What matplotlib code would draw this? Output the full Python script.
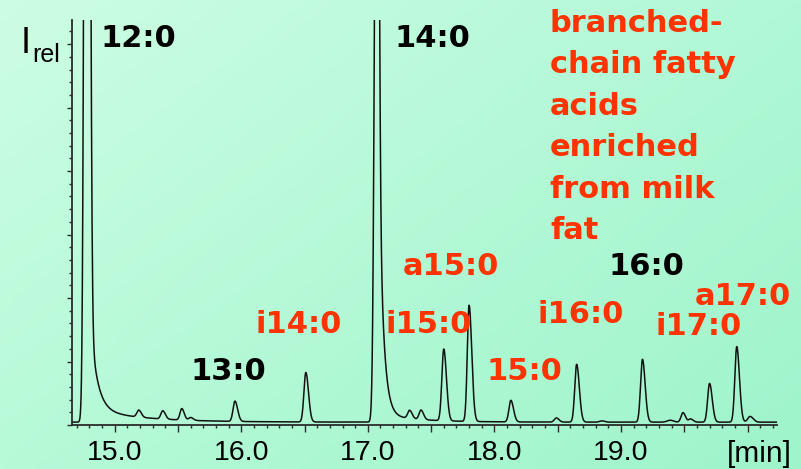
import numpy as np
import matplotlib
matplotlib.use("Agg")
import matplotlib.pyplot as plt
from matplotlib.ticker import MultipleLocator

# small peaks: retention time [min], height above baseline, widths
peak_rt = [15.19, 15.38, 15.53, 15.60, 15.95, 16.51, 17.33, 17.42, 17.60, 17.80,
           18.13, 18.49, 18.65, 18.85, 19.17, 19.39, 19.49, 19.55, 19.70, 19.915, 20.02]
peak_amp = [1.1, 1.3, 1.8, 0.45, 3.2, 7.8, 1.3, 1.5, 11.3, 18.3,
            3.4, 0.65, 9.1, 0.2, 9.9, 0.3, 1.5, 0.5, 6.1, 11.9, 0.9]
peak_sl = [0.015, 0.015, 0.014, 0.015, 0.015, 0.015, 0.015, 0.015, 0.015, 0.014,
           0.015, 0.016, 0.015, 0.018, 0.015, 0.025, 0.015, 0.015, 0.015, 0.015, 0.018]
peak_sr = [0.02, 0.02, 0.019, 0.02, 0.021, 0.021, 0.02, 0.02, 0.021, 0.021,
           0.021, 0.02, 0.021, 0.02, 0.021, 0.025, 0.019, 0.02, 0.021, 0.021, 0.025]

# the two overloaded peaks (12:0, 14:0) with their tailing
big_rt = [14.781, 17.070]
big_amp = [300, 120]
big_sl = [0.016, 0.016]
big_sr = [0.017, 0.014]
tail_a1 = [23, 70]
tail_tau1 = [0.053, 0.033]
tail_a2 = [2.2, 1.3]
tail_tau2 = [0.4, 0.3]
baseline = 0.45

xtick_pos = [15.0, 15.5, 16.0, 16.5, 17.0, 17.5, 18.0, 18.5, 19.0, 19.5, 20.0]
xtick_lab = ["15.0", "", "16.0", "", "17.0", "", "18.0", "", "19.0", "", ""]

black_labels = ["12:0", "14:0", "13:0", "16:0"]
black_pos = [(100, 47), (395, 47), (190, 380), (608, 275)]
red_labels = ["i14:0", "i15:0", "15:0", "a15:0", "i16:0", "i17:0", "a17:0"]
red_pos = [(255, 333), (386, 333), (486, 380), (403, 275), (538, 323), (655, 335), (695, 305)]
note_lines = ["branched-", "chain fatty", "acids", "enriched", "from milk", "fat"]

RED = "#ff3300"
W, H = 801, 469

t = np.linspace(14.6625, 20.233, 6000)
sig = np.full_like(t, baseline)
for rt, a, sl, sr in zip(peak_rt + big_rt, peak_amp + big_amp, peak_sl + big_sl, peak_sr + big_sr):
    s = np.where(t < rt, sl, sr)
    sig += a * np.exp(-0.5 * ((t - rt) / s) ** 2)
for rt, a1, k1, a2, k2 in zip(big_rt, tail_a1, tail_tau1, tail_a2, tail_tau2):
    dt = t - rt
    sig += np.where(dt > 0, a1 * np.exp(-dt / k1) + a2 * np.exp(-dt / k2), 0)

fig = plt.figure(figsize=(W / 100, H / 100), dpi=100)

# background gradient
bg = fig.add_axes([0, 0, 1, 1], zorder=-1)
tl, tr = np.array([205, 253, 227]), np.array([176, 248, 214])
bl, br = np.array([182, 250, 216]), np.array([158, 244, 203])
u = np.linspace(0, 1, 200)[None, :, None]
v = np.linspace(0, 1, 120)[:, None, None]
img = (1 - v) * ((1 - u) * tl + u * tr) + v * ((1 - u) * bl + u * br)
bg.imshow(img / 255, aspect="auto", extent=[0, 1, 0, 1])
bg.axis("off")

ax = fig.add_axes([72 / W, 1 - 425 / H, (777 - 72) / W, (425 - 20) / H])
ax.set_facecolor("none")
ax.plot(t, sig, color="#111111", lw=1.1)
ax.set_xlim(14.6625, 20.233)
ax.set_ylim(0, 63.8)

for s in ["top", "right"]:
    ax.spines[s].set_visible(False)
for s in ["left", "bottom"]:
    ax.spines[s].set_color("#2b2b2b")
    ax.spines[s].set_linewidth(1.3)

ax.set_xticks(xtick_pos)
ax.set_xticklabels(xtick_lab)
ax.xaxis.set_minor_locator(MultipleLocator(0.1))
ax.yaxis.set_major_locator(MultipleLocator(10))
ax.yaxis.set_minor_locator(MultipleLocator(2))
ax.set_yticklabels([])
ax.tick_params(axis="x", which="major", length=5, width=1, color="#2b2b2b", pad=6,
               labelsize=20.5, labelcolor="black")
ax.tick_params(axis="x", which="minor", length=2.4, width=1, color="#2b2b2b")
ax.tick_params(axis="y", which="major", length=3.6, width=1, color="#2b2b2b")
ax.tick_params(axis="y", which="minor", length=2, width=1, color="#2b2b2b")
for lab in ax.get_xticklabels():
    lab.set_fontfamily("Liberation Sans")


def fx(px):
    return px / W


def fy(py):
    return 1 - py / H


fig.text(fx(727), fy(462), "[min]", fontsize=21.5, family="Liberation Sans", va="baseline")
fig.text(fx(21), fy(53), "I", fontsize=26, family="Liberation Sans", va="baseline")
fig.text(fx(32), fy(62), "rel", fontsize=18, family="Liberation Sans", va="baseline")

for lab, (x, y) in zip(black_labels, black_pos):
    fig.text(fx(x), fy(y), lab, fontsize=22, weight="bold", color="black", va="baseline")
for lab, (x, y) in zip(red_labels, red_pos):
    fig.text(fx(x), fy(y), lab, fontsize=22, weight="bold", color=RED, va="baseline")
for i, line in enumerate(note_lines):
    fig.text(fx(550), fy(32 + 41.4 * i), line, fontsize=22, weight="bold", color=RED, va="baseline")

fig.savefig("out.png", dpi=100)
